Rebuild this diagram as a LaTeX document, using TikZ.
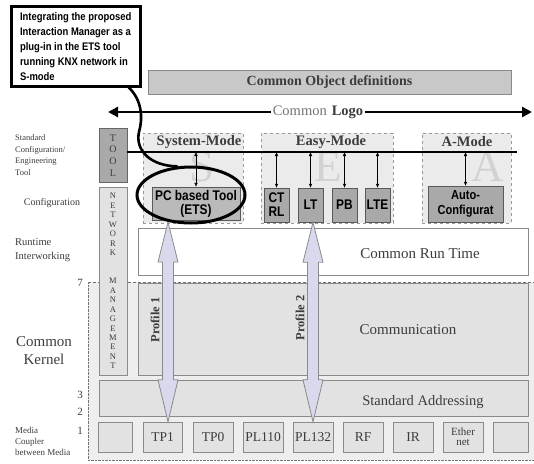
\documentclass[tikz,border=0pt]{standalone}
\usepackage{fontspec}
\setmainfont{Liberation Serif}
\newfontfamily\narrowsans[FakeStretch=0.85]{Liberation Sans}
\newfontfamily\callfont[FakeStretch=0.86]{Liberation Sans}
\usetikzlibrary{arrows.meta,calc,shapes.geometric}

\definecolor{panelgray}{HTML}{EBEBEB}
\definecolor{layergray}{HTML}{E2E2E2}
\definecolor{kernelgray}{HTML}{EEEEEE}
\definecolor{toolgray}{HTML}{A9A9A9}
\definecolor{objgray}{HTML}{C8C8C8}
\definecolor{linegray}{HTML}{8A8A8A}
\definecolor{txtgray}{HTML}{3C3C3C}
\definecolor{ghostgray}{HTML}{D2D2D2}
\definecolor{profilefill}{HTML}{D9D9EE}

\newcommand\fsz[2]{\fontsize{#1}{#2}\selectfont}

\begin{document}
\begin{tikzpicture}[x=1pt,y=-1pt,
  panel/.style={draw=black!40,dashed,fill=panelgray,inner sep=0pt},
  devbox/.style={draw=black!65,fill=toolgray,inner sep=0pt,align=center,
    font=\narrowsans\bfseries\fsz{14}{14}},
  layer/.style={draw=linegray,fill=layergray,inner sep=0pt},
  mediabox/.style={draw=linegray,fill=layergray,minimum height=30,inner sep=0pt,
    font=\fsz{13.5}{12},text=txtgray},
  sidetext/.style={anchor=west,align=left,text=txtgray,inner sep=0pt},
  ghost/.style={font=\fsz{45}{45},text=ghostgray,inner sep=0pt},
  bus/.style={line width=2pt},
  tiny/.style={{Latex[length=4pt,width=3.5pt]}-{Latex[length=4pt,width=3.5pt]},thin},
  profile/.style={draw=linegray,fill=profilefill,line width=0.8pt},
  callline/.style={line width=2.6pt}]

  \useasboundingbox (0,0) rectangle (534,463);

  % common kernel region
  \fill[kernelgray] (88,282) rectangle (534,460);
  \draw[densely dashed,black!55] (88,282) -- (534,282);
  \draw[densely dotted,black!55] (88,282) -- (88,460) -- (534,460);

  % object definitions and logo
  \node[draw=linegray,fill=objgray,minimum width=363,minimum height=24,
    font=\bfseries\fsz{14}{14},text=txtgray] (objdef) at (329.5,82) {Common Object definitions};
  \coordinate (logoL) at (108,112);
  \coordinate (logoR) at (532,112);
  \node[fill=white,inner sep=2pt,font=\fsz{14.5}{14}] (logo) at (318,112)
    {\textcolor{black!55}{Common}\hspace{5pt}\textcolor{txtgray}{\bfseries Logo}};
  \draw[line width=2.5pt,-{Triangle[length=10pt,width=10pt]}] (logo.west) -- (logoL);
  \draw[line width=2.5pt,-{Triangle[length=10pt,width=10pt]}] (logo.east) -- (logoR);

  % tool and network management columns
  \node[draw=black!60,fill=toolgray,minimum width=28,minimum height=54] (tool) at (113,155) {};
  \foreach \c [count=\i] in {T,O,O,L}
    \node[font=\fsz{10}{10},text=txtgray,inner sep=0pt] (tool\i) at (113,{126.3+11.7*\i}) {\c};
  \node[draw=linegray,fill=layergray,minimum width=28,minimum height=188] (netw) at (113,281) {};
  \foreach \c [count=\i] in {N,E,T,W,O,R,K}
    \node[font=\fsz{8.5}{8},text=txtgray,inner sep=0pt] (netA\i) at (113,{186.55+9.45*\i}) {\c};
  \foreach \c [count=\i] in {M,A,N,A,G,E,M,E,N,T}
    \node[font=\fsz{8.5}{8},text=txtgray,inner sep=0pt] (netB\i) at (113,{271.6+9.45*\i}) {\c};

  % mode panels
  \node[panel,minimum width=100,minimum height=90] (sys) at (193,178) {};
  \node[panel,minimum width=132,minimum height=90] (easy) at (327,178) {};
  \node[panel,minimum width=89,minimum height=90] (amode) at (466.5,178) {};
  \node[ghost] (ghostS) at (202,167) {S};
  \node[ghost] (ghostE) at (328,167) {E};
  \node[ghost] (ghostA) at (488,167) {A};
  \node[font=\bfseries\fsz{14.5}{14},text=txtgray,inner sep=0pt] (systitle) at (199,142) {System-Mode};
  \node[font=\bfseries\fsz{14.5}{14},text=txtgray,inner sep=0pt] (easytitle) at (331,142) {Easy-Mode};
  \node[font=\bfseries\fsz{14.5}{14},text=txtgray,inner sep=0pt] (atitle) at (467,142) {A-Mode};

  \coordinate (busL) at (127,152);
  \coordinate (busR) at (517,152);
  \draw[bus] (busL) -- (busR);

  % configuration tools
  \node[devbox,fill=toolgray!80,minimum width=88,minimum height=33] (ets) at (196,203.5) {PC based Tool\\(ETS)};
  \node[devbox,minimum width=25,minimum height=34] (ctrl) at (276.5,205) {CT\\RL};
  \node[devbox,minimum width=25,minimum height=34] (lt) at (310.5,205) {LT};
  \node[devbox,minimum width=25,minimum height=34] (pb) at (344.5,205) {PB};
  \node[devbox,minimum width=25,minimum height=34] (lte) at (377.5,205) {LTE};
  \node[devbox,minimum width=75,minimum height=36,font=\narrowsans\bfseries\fsz{13}{15}] (auto) at (465.5,204) {Auto-\\Configurat};
  \foreach \b in {ets,ctrl,lt,pb,lte,auto}
    \draw[tiny] (\b.north |- busL) -- (\b.north);

  % layers
  \node[layer,fill=white,minimum width=390,minimum height=47] (crt) at (333,251.5) {};
  \node[font=\fsz{15}{15},text=txtgray] (crtname) at (420,254) {Common Run Time};
  \node[layer,minimum width=390,minimum height=92] (comm) at (333,329) {};
  \node[font=\fsz{15}{15},text=txtgray] (commname) at (408,330) {Communication};
  \node[layer,minimum width=429,minimum height=36] (addr) at (313.5,398) {};
  \node[font=\fsz{14.5}{15},text=txtgray] (addrname) at (423,402) {Standard Addressing};

  % media
  \node[mediabox,minimum width=34] (m0) at (115,437) {};
  \node[mediabox,minimum width=39] (tp1) at (162.5,437) {TP1};
  \node[mediabox,minimum width=40] (tp0) at (213,437) {TP0};
  \node[mediabox,minimum width=40] (pl110) at (263,437) {PL110};
  \node[mediabox,minimum width=40] (pl132) at (313,437) {PL132};
  \node[mediabox,minimum width=40] (rf) at (363,437) {RF};
  \node[mediabox,minimum width=40] (ir) at (413,437) {IR};
  \node[mediabox,minimum width=40,align=center,font=\fsz{11}{10}] (eth) at (463,437) {Ether\\net};
  \node[mediabox,minimum width=35] (m9) at (510.5,437) {};

  % profiles
  \coordinate (p1top) at (168,222);
  \coordinate (p1bot) at (p1top |- tp1.north);
  \coordinate (p2top) at (pl132.north |- lt.south);
  \coordinate (p2bot) at (pl132.north);
  \foreach \a/\b in {p1top/p1bot,p2top/p2bot}
    \draw[profile] (\a) -- ($(\a)+(-10,40)$) -- ($(\a)+(-5.5,40)$) -- ($(\b)+(-5.5,-42)$)
      -- ($(\b)+(-10,-42)$) -- (\b) -- ($(\b)+(10,-42)$) -- ($(\b)+(5.5,-42)$)
      -- ($(\a)+(5.5,40)$) -- ($(\a)+(10,40)$) -- cycle;
  \node[rotate=90,font=\bfseries\fsz{12.5}{12},text=txtgray] (prof1) at (155,320) {Profile 1};
  \node[rotate=90,font=\bfseries\fsz{12.5}{12},text=txtgray] (prof2) at (300,318) {Profile 2};

  % left labels
  \node[sidetext,font=\fsz{8.5}{11.8}] (stdconf) at (15,155) {Standard\\Configuration/\\Engineering\\Tool};
  \node[font=\fsz{10}{10},text=txtgray] (conf) at (52,203) {Configuration};
  \node[sidetext,font=\fsz{10.5}{14}] (runtime) at (15,250) {Runtime\\Interworking};
  \node[font=\fsz{15}{18},text=txtgray,align=center] (kernel) at (44,351) {Common\\Kernel};
  \node[sidetext,font=\fsz{9}{11}] (coupler) at (15,441) {Media\\Coupler\\between Media};
  \node[font=\fsz{11}{11},text=txtgray] (lvl7) at (80,283) {7};
  \node[font=\fsz{11}{11},text=txtgray] (lvl3) at (80,395) {3};
  \node[font=\fsz{11}{11},text=txtgray] (lvl2) at (80,412) {2};
  \node[font=\fsz{11}{11},text=txtgray] (lvl1) at (80,431) {1};

  % callout
  \node[draw,ellipse,line width=3pt,minimum width=108,minimum height=56] (ell) at (191,195) {};
  \node[draw,fill=white,line width=2.5pt,anchor=north west,minimum width=129,minimum height=80,
    inner sep=4pt,align=left,font=\callfont\bfseries\fsz{11}{15}] (callout) at (10,5)
    {Integrating the proposed\\Interaction Manager as a\\plug-in in the ETS tool\\running KNX network in\\S-mode};
  \draw[callline] ([xshift=53pt]callout.south) .. controls (142,100) and (143,118) .. (139,132)
    .. controls (135,150) and (150,166) .. (ell.115);
\end{tikzpicture}
\end{document}
